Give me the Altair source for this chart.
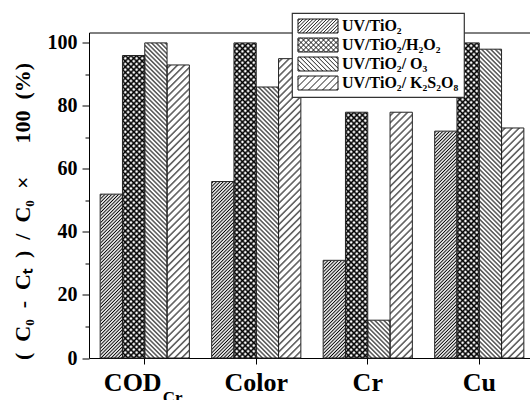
import base64
import altair as alt
import pandas as pd

# ---------------- data ----------------
categories = ["COD_Cr", "Color", "Cr", "Cu"]
series = ["UV/TiO₂", "UV/TiO₂/H₂O₂", "UV/TiO₂/ O₃", "UV/TiO₂/ K₂S₂O₈"]
uv_tio2 = [52, 56, 31, 72]
uv_tio2_h2o2 = [96, 100, 78, 100]
uv_tio2_o3 = [100, 86, 12, 98]
uv_tio2_k2s2o8 = [93, 95, 78, 73]
y_major = [0, 20, 40, 60, 80, 100]
y_minor = [10, 30, 50, 70, 90]
sub_categories = ["COD_Cr"]
sub_texts = ["Cr"]
EN, EM = "\u2002", "\u2003"
y_title = f"({EN}C₀{EN}-{EN}Cₜ{EN}){EN}/{EN}C₀{EN}×{EM}{EN}100{EN}(%)"

values = [uv_tio2, uv_tio2_h2o2, uv_tio2_o3, uv_tio2_k2s2o8]

# ---------------- styles ----------------
FONT = "Liberation Serif"


def hatch_url(spacing, width, angles):
    pats, rects = [], []
    for i, a in enumerate(angles):
        pats.append(
            f'<pattern id="p{i}" patternUnits="userSpaceOnUse" width="{spacing}" height="{spacing}" '
            f'patternTransform="rotate({a})"><line x1="{spacing/2}" y1="-1" x2="{spacing/2}" '
            f'y2="{spacing+1}" stroke="#000" stroke-width="{width}"/></pattern>'
        )
        rects.append(f'<rect width="100%" height="100%" fill="url(#p{i})"/>')
    svg = ('<svg xmlns="http://www.w3.org/2000/svg" width="100%" height="100%">'
           f'<defs>{"".join(pats)}</defs>{"".join(rects)}</svg>')
    return "data:image/svg+xml;base64," + base64.b64encode(svg.encode()).decode()


def swatch_path(families, w2=20.0, h2=7.0, k_scale=7.0):
    def f(v):
        return f"{v / k_scale:.3f}"
    segs = [f"M{f(-w2)},{f(-h2)}H{f(w2)}V{f(h2)}H{f(-w2)}Z"]
    for d, sp in families:
        k = -w2 - h2 + sp / 2
        while k < w2 + h2:
            xa = max(-w2, k - h2)
            xb = min(w2, k + h2)
            if xb - xa > 0.3:
                if d == "/":
                    segs.append(f"M{f(xa)},{f(k - xa)}L{f(xb)},{f(k - xb)}")
                else:
                    segs.append(f"M{f(xa)},{f(xa - k)}L{f(xb)},{f(xb - k)}")
            k += sp
    return "".join(segs)


bar_patterns = [
    hatch_url(2.4, 1.0, [45]),
    hatch_url(4.0, 1.6, [45, -45]),
    hatch_url(3.2, 1.0, [-45]),
    hatch_url(5.0, 1.0, [45]),
]
legend_paths = [
    swatch_path([("/", 3.4)]),
    swatch_path([("/", 5.0), ("\\", 5.0)]),
    swatch_path([("\\", 4.5)]),
    swatch_path([("/", 7.0)]),
]

rows = []
for j, s in enumerate(series):
    for i, c in enumerate(categories):
        rows.append({"category": c, "series": s, "value": values[j][i], "url": bar_patterns[j]})
df = pd.DataFrame(rows)
sub_df = pd.DataFrame({"category": sub_categories, "sub": sub_texts})

W, H = 441, 325.5
x_scale = alt.Scale(domain=categories, paddingInner=0.2, paddingOuter=0.0776, align=0.645)
y_scale = alt.Scale(domain=[0, 103.3], nice=False, zero=True)
xo = alt.XOffset("series:N", scale=alt.Scale(domain=series, paddingInner=0, paddingOuter=0), sort=series)

x_axis_bottom = alt.Axis(
    orient="bottom", title=None, domainColor="black", domainWidth=1, tickColor="black",
    tickSize=6, labelFont=FONT, labelFontWeight="bold", labelFontSize=26, labelColor="black",
    labelPadding=5, labelAngle=0,
    labelExpr="datum.value === 'COD_Cr' ? 'COD' : datum.value",
    labelOffset={"condition": {"test": "datum.value === 'COD_Cr'", "value": -12}, "value": 0},
)
x_axis_top = alt.Axis(orient="top", title=None, labels=False, ticks=False,
                      domainColor="black", domainWidth=1)
y_axis_major = alt.Axis(
    orient="left", values=y_major, title=y_title, domainColor="black", domainWidth=1,
    tickColor="black", tickSize=7,
    labelFont=FONT, labelFontWeight="bold", labelFontSize=20, labelColor="black", labelPadding=5,
    titleFont=FONT, titleFontWeight="bold", titleFontSize=22, titleColor="black",
    titleX=-67, titleY=178.5, titleAngle=270, titleBaseline="middle", titleAlign="center",
)
y_axis_minor = alt.Axis(
    orient="left", values=y_minor, title=None, labels=False, domain=False,
    tickColor="black", tickSize=4,
)

legend = alt.Legend(
    orient="none", legendX=203, legendY=-19.5, title=None, symbolSize=196,
    symbolStrokeWidth=0.9, symbolStrokeColor="black", symbolFillColor="white",
    symbolOffset=13, labelOffset=16, labelFont=FONT, labelFontWeight="bold",
    labelFontSize=16, labelColor="black", labelLimit=400, rowPadding=1, padding=5,
    strokeColor="#333", fillColor="white",
)

base = alt.Chart(df)

legend_layer = base.transform_calculate(mid="datum.value / 2").mark_point(
    filled=False, color="black", opacity=1
).encode(
    x=alt.X("category:N", scale=x_scale, sort=categories, axis=None),
    xOffset=xo,
    y=alt.Y("mid:Q", scale=y_scale, axis=None),
    shape=alt.Shape("series:N", scale=alt.Scale(domain=series, range=legend_paths), legend=legend),
)

white_bars = base.mark_bar(fill="white").encode(
    x=alt.X("category:N", scale=x_scale, sort=categories, axis=x_axis_bottom),
    xOffset=xo,
    y=alt.Y("value:Q", scale=y_scale, axis=y_axis_major),
)

hatch = base.transform_calculate(zero="0").mark_image(aspect=False).encode(
    x=alt.X("category:N", scale=x_scale, sort=categories, axis=None),
    xOffset=xo,
    y=alt.Y("value:Q", scale=y_scale, axis=None),
    y2="zero:Q",
    url="url:N",
)

outline = base.mark_bar(fill="transparent", stroke="#222", strokeWidth=1).encode(
    x=alt.X("category:N", scale=x_scale, sort=categories, axis=x_axis_top),
    xOffset=xo,
    y=alt.Y("value:Q", scale=y_scale, axis=y_axis_minor),
)

sub_layer = alt.Chart(sub_df).transform_calculate(zero="0").mark_text(
    font=FONT, fontWeight="bold", fontSize=17, align="left", baseline="alphabetic",
    dx=18, dy=45, color="black"
).encode(
    x=alt.X("category:N", scale=x_scale, sort=categories, axis=None),
    y=alt.Y("zero:Q", scale=y_scale, axis=None),
    text="sub:N",
)

chart = alt.layer(legend_layer, white_bars, hatch, outline, sub_layer).resolve_axis(
    x="independent", y="independent"
).properties(
    width=W, height=H,
    autosize=alt.AutoSizeParams(type="none"),
    padding={"left": 89, "top": 32.5, "right": 0, "bottom": 42},
    background="white",
).configure_axis(grid=False).configure_view(stroke=None).configure_legend(strokeWidth=1.2)

chart.save("out.html", embed_options={"renderer": "svg", "actions": False})
